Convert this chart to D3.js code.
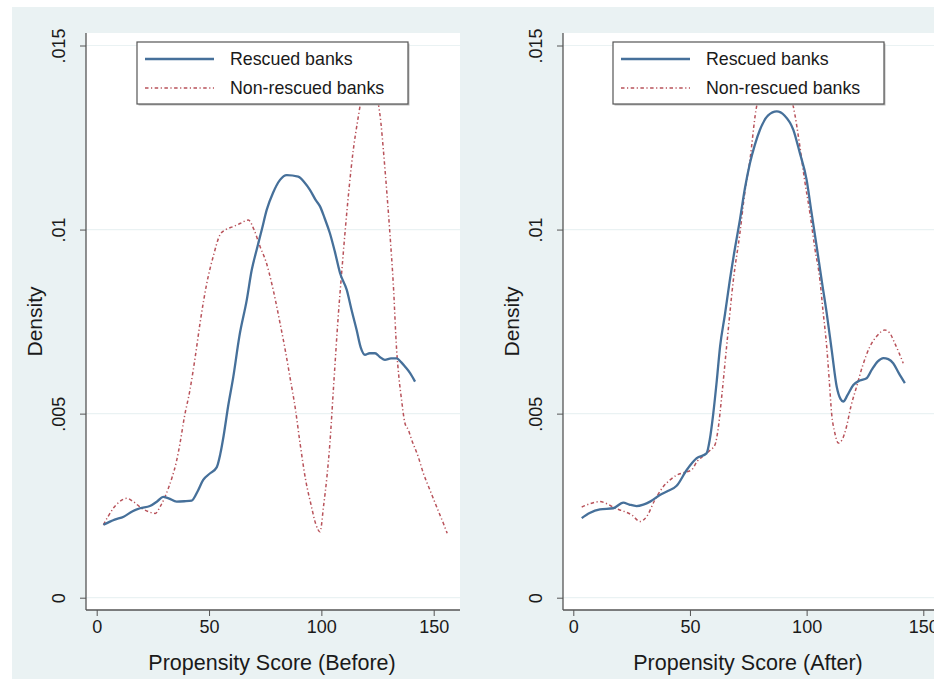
<!DOCTYPE html>
<html>
<head>
<meta charset="utf-8">
<script src="https://cdn.jsdelivr.net/npm/d3@7"></script>
<style>
  body { margin: 0; background: #fff; }
  text { font-family: "Liberation Sans", Arial, Helvetica, sans-serif; fill: #1a1a1a; }
</style>
</head>
<body>
<script>
// Kernel density estimates: [propensity score, density]
const beforeRescued = [
  [3, 0.00198], [8, 0.00212], [12, 0.0022], [16, 0.00235], [19.3, 0.00243], [23.7, 0.00249],
  [27, 0.00262], [29.6, 0.00274], [32, 0.0027], [35.6, 0.00261], [39, 0.00262], [42.3, 0.00264],
  [45, 0.0029], [47.4, 0.0032], [50.5, 0.00338], [53.4, 0.00354], [55, 0.0039], [56.5, 0.0044],
  [58.5, 0.0052], [60.8, 0.006], [63.5, 0.0071], [66.8, 0.00809], [69, 0.0089], [71.2, 0.00945],
  [73.5, 0.01], [75.7, 0.01054], [78.5, 0.011], [81.6, 0.01135], [84.6, 0.01148], [89.7, 0.01144],
  [92.5, 0.01128], [94.9, 0.01108], [97.5, 0.0108], [99.4, 0.01063], [101.5, 0.0103], [103.8, 0.0099],
  [106, 0.0094], [108.3, 0.00882], [111.3, 0.00836], [113.5, 0.0078], [115.7, 0.00727], [117.5, 0.0068],
  [119.4, 0.0066], [121.5, 0.00664], [123.9, 0.00664], [126, 0.00654], [128.3, 0.00646], [131, 0.0065],
  [133.5, 0.0065], [135.5, 0.0064], [137.2, 0.00628], [139.5, 0.0061], [141.7, 0.00587]
];
const beforeNonRescued = [
  [3, 0.00198], [5, 0.0022], [7.4, 0.00243], [10, 0.0026], [13.4, 0.0027], [16.5, 0.0026],
  [20, 0.00243], [23, 0.00234], [26, 0.00229], [28.5, 0.0025], [30.4, 0.00274], [33.4, 0.00324],
  [35.5, 0.0037], [37.1, 0.0042], [39, 0.0049], [41.5, 0.00564], [44, 0.0066], [46, 0.00746],
  [49, 0.00854], [52, 0.0093], [54.9, 0.00986], [57.5, 0.01], [60.8, 0.01008], [64, 0.01017],
  [67.5, 0.01026], [70, 0.01], [72.7, 0.00954], [75.5, 0.0091], [77.9, 0.00854], [81.6, 0.00746],
  [84, 0.0067], [86, 0.006], [88.5, 0.0051], [90.5, 0.0042], [93, 0.0032], [95.5, 0.0025],
  [97.5, 0.002], [99.4, 0.00179], [101, 0.0025], [102.5, 0.0033], [103.8, 0.0042], [105.5, 0.0058],
  [107.5, 0.00764], [109, 0.0088], [110.5, 0.0099], [112.3, 0.0111], [114.2, 0.01216], [116, 0.0129],
  [117.5, 0.01345], [119.5, 0.014], [121.3, 0.0142], [123.3, 0.014], [125.3, 0.01345], [126.5, 0.0129],
  [127.6, 0.01216], [128.5, 0.0115], [130.5, 0.0099], [132, 0.00854], [133.5, 0.00673], [134.5, 0.006],
  [135.7, 0.00537], [137.2, 0.00474], [138.7, 0.00456], [140.2, 0.00429], [143.1, 0.00383], [145.4, 0.00338],
  [148.3, 0.00293], [151.3, 0.00247], [154.3, 0.00202], [156, 0.00175]
];
const afterRescued = [
  [3.6, 0.00216], [7, 0.0023], [11.4, 0.0024], [17.1, 0.00243], [21.4, 0.00258], [24, 0.00253],
  [27.1, 0.00249], [30, 0.00253], [32.9, 0.00261], [37.1, 0.00279], [40.5, 0.0029], [44.3, 0.00304],
  [48.6, 0.00347], [52.9, 0.00379], [57.1, 0.00392], [58.5, 0.0043], [60, 0.00501], [61.5, 0.0059],
  [62.9, 0.00682], [65, 0.0077], [67.1, 0.00863], [69.3, 0.0095], [71.4, 0.01026], [73.5, 0.0111],
  [75.7, 0.0118], [77.8, 0.0123], [80, 0.01271], [83.5, 0.0131], [87.2, 0.01321], [90.5, 0.0131],
  [94.3, 0.01271], [97, 0.0121], [100, 0.01135], [102, 0.0105], [104.3, 0.00954], [106.5, 0.0086],
  [108.6, 0.00773], [110.8, 0.0067], [112.9, 0.00573], [114.5, 0.0054], [115.7, 0.00533], [117.5, 0.0055],
  [120, 0.00578], [122.8, 0.0059], [125.7, 0.00596], [128, 0.0062], [130.5, 0.00642], [132.9, 0.00651],
  [135, 0.00648], [137.1, 0.00637], [139.5, 0.0061], [142.1, 0.00583]
];
const afterNonRescued = [
  [3.6, 0.00246], [7, 0.00255], [11.4, 0.00261], [14.5, 0.00255], [17.9, 0.00243], [21.5, 0.00235],
  [25, 0.00225], [28.6, 0.00207], [31.4, 0.0022], [35, 0.00266], [38.6, 0.00302], [41.5, 0.0032],
  [44.3, 0.00333], [47.5, 0.0034], [50.7, 0.00347], [53, 0.0037], [55.7, 0.00385], [58.5, 0.004],
  [60.7, 0.00415], [62.1, 0.0046], [63.6, 0.00546], [65.7, 0.00682], [68.6, 0.00863], [71.4, 0.0099],
  [73.5, 0.011], [75.7, 0.01189], [78.3, 0.01325], [81.5, 0.0139], [86, 0.0142], [90.5, 0.014],
  [94.3, 0.01334], [97.1, 0.01226], [99, 0.0114], [101.4, 0.01045], [103.5, 0.0095], [105.7, 0.00863],
  [107, 0.0078], [108.6, 0.00682], [109.7, 0.0059], [110.7, 0.00501], [112, 0.0045], [113.6, 0.0042],
  [115.3, 0.0043], [117.1, 0.00465], [119, 0.0052], [121.4, 0.00573], [124, 0.0063], [127.1, 0.00682],
  [130, 0.0071], [133.5, 0.00727], [135.5, 0.0072], [137.8, 0.00691], [141.4, 0.00637]
];

const xTicks = [0, 50, 100, 150];
const yTicks = [0, 0.005, 0.01, 0.015];
const yTickLabels = ['0', '.005', '.01', '.015'];
const seriesNames = ['Rescued banks', 'Non-rescued banks'];
const xTitles = ['Propensity Score (Before)', 'Propensity Score (After)'];
const yTitle = 'Density';

const blue = '#46709a';
const red = '#b8525a';
const bg = '#eaf2f3';

const svg = d3.select('body').append('svg')
  .attr('width', 934)
  .attr('height', 679);

// outer graph region
svg.append('rect')
  .attr('x', 12).attr('y', 7)
  .attr('width', 922).attr('height', 672)
  .attr('fill', bg);

// panel layouts (pixel frame of each plot region)
const panels = [
  { left: 86, right: 460, x0: 96.7, x150: 433.7, title: xTitles[0],
    lines: [beforeRescued, beforeNonRescued], legendX: 137, titleX: 272 },
  { left: 563, right: 940, x0: 573.3, x150: 923.3, title: xTitles[1],
    lines: [afterRescued, afterNonRescued], legendX: 613, titleX: 748 }
];
const plotTop = 33, plotBottom = 610;
const yScale = d3.scaleLinear().domain([0, 0.015]).range([597.7, 45.5]);

panels.forEach(function (p, i) {
  const g = svg.append('g');
  const xScale = d3.scaleLinear().domain([0, 150]).range([p.x0, p.x150]);

  // plot region
  g.append('rect')
    .attr('x', p.left).attr('y', plotTop)
    .attr('width', p.right - p.left).attr('height', plotBottom - plotTop)
    .attr('fill', '#fff');

  // gridlines
  g.selectAll('.grid')
    .data(yTicks)
    .enter().append('line')
    .attr('x1', p.left).attr('x2', p.right)
    .attr('y1', d => yScale(d)).attr('y2', d => yScale(d))
    .attr('stroke', bg).attr('stroke-width', 1.2);

  // clip for lines
  const clipId = 'clip' + i;
  svg.append('clipPath').attr('id', clipId)
    .append('rect')
    .attr('x', p.left).attr('y', plotTop)
    .attr('width', p.right - p.left).attr('height', plotBottom - plotTop);

  const line = d3.line()
    .x(d => xScale(d[0]))
    .y(d => yScale(d[1]))
    .curve(d3.curveMonotoneX);

  const lg = g.append('g').attr('clip-path', 'url(#' + clipId + ')');
  lg.append('path')
    .datum(p.lines[1])
    .attr('d', line)
    .attr('fill', 'none')
    .attr('stroke', red)
    .attr('stroke-width', 1.5)
    .attr('stroke-dasharray', '3.5,2.5,1.2,2.5');
  lg.append('path')
    .datum(p.lines[0])
    .attr('d', line)
    .attr('fill', 'none')
    .attr('stroke', blue)
    .attr('stroke-width', 2.3);

  // y axis
  const yAxis = d3.axisLeft(yScale)
    .tickValues(yTicks)
    .tickSize(6)
    .tickFormat((d, k) => yTickLabels[k]);
  const ya = g.append('g')
    .attr('transform', 'translate(' + p.left + ',0)')
    .call(yAxis);
  ya.select('.domain').attr('d', 'M0,' + plotTop + 'V' + plotBottom).attr('stroke', '#555').attr('stroke-width', 1.3);
  ya.selectAll('.tick line').attr('stroke', '#555');
  ya.selectAll('.tick text')
    .attr('x', 0).attr('y', 0).attr('dy', null)
    .attr('text-anchor', 'middle')
    .attr('transform', 'translate(-21,0) rotate(-90)')
    .style('font-size', '18px')
    .style('fill', '#1a1a1a');

  // x axis
  const xAxis = d3.axisBottom(xScale)
    .tickValues(xTicks)
    .tickSize(6)
    .tickPadding(4);
  const xa = g.append('g')
    .attr('transform', 'translate(0,' + plotBottom + ')')
    .call(xAxis);
  xa.select('.domain').attr('d', 'M' + p.left + ',0H' + p.right).attr('stroke', '#555').attr('stroke-width', 1.3);
  xa.selectAll('.tick line').attr('stroke', '#555');
  xa.selectAll('.tick text').style('font-size', '18px').style('fill', '#1a1a1a');

  // axis titles
  g.append('text')
    .attr('x', p.titleX).attr('y', 670)
    .attr('text-anchor', 'middle')
    .style('font-size', '21.5px')
    .text(p.title);
  g.append('text')
    .attr('transform', 'translate(' + (p.left - 51) + ',' + ((plotTop + plotBottom) / 2) + ') rotate(-90)')
    .attr('text-anchor', 'middle')
    .attr('dy', '0.35em')
    .style('font-size', '21px')
    .text(yTitle);

  // legend
  const leg = g.append('g').attr('transform', 'translate(' + p.legendX + ',42)');
  leg.append('rect')
    .attr('x', 1.5).attr('y', 1.5)
    .attr('width', 271).attr('height', 62)
    .attr('fill', '#bbb');
  leg.append('rect')
    .attr('width', 271).attr('height', 62)
    .attr('fill', '#fff')
    .attr('stroke', '#555').attr('stroke-width', 1.2);
  seriesNames.forEach(function (name, k) {
    const yy = 17 + k * 29;
    leg.append('line')
      .attr('x1', 8).attr('x2', 77)
      .attr('y1', yy).attr('y2', yy)
      .attr('stroke', k === 0 ? blue : red)
      .attr('stroke-width', k === 0 ? 2.3 : 1.5)
      .attr('stroke-dasharray', k === 0 ? null : '3.5,2.5,1.2,2.5');
    leg.append('text')
      .attr('x', 93).attr('y', yy)
      .attr('dy', '0.35em')
      .style('font-size', '17.8px')
      .text(name);
  });
});
</script>
</body>
</html>
